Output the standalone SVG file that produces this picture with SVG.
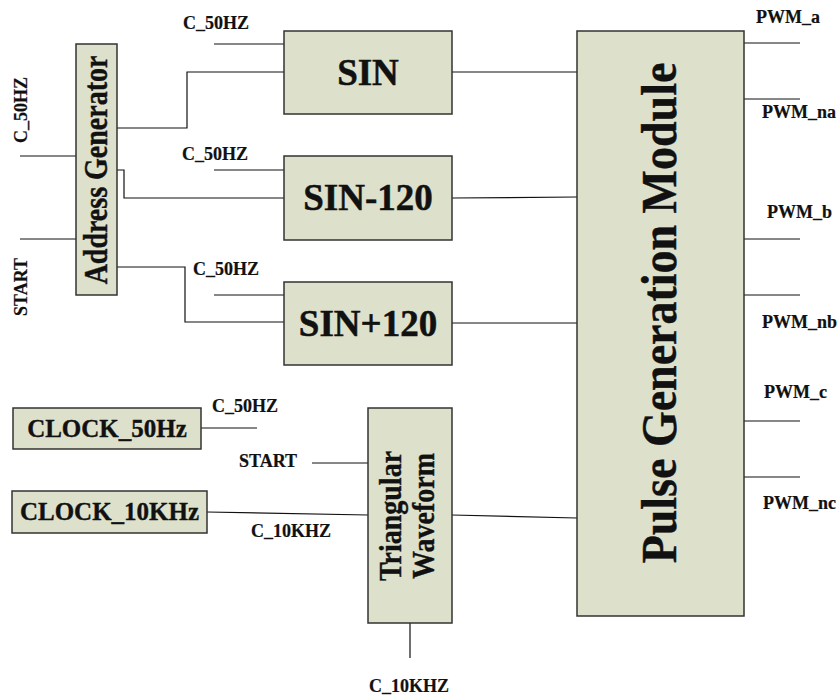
<svg xmlns="http://www.w3.org/2000/svg" width="840" height="695" viewBox="0 0 840 695">
<style>
.box{fill:#dde0cb;stroke:#333;stroke-width:1.5}
.ln{fill:none;stroke:#111;stroke-width:1.2}
text{font-family:"Liberation Serif","Times New Roman",serif;font-weight:bold;fill:#111;stroke:#111;stroke-width:0.35}
.lb{font-size:18px;stroke-width:0.2}
.big{font-size:37px;stroke-width:0.5}
.mid{font-size:25px}
</style>
<rect width="840" height="695" fill="#fff"/>
<g id="connectors">
<path class="ln" d="M20 156H76M20 239H76"/>
<path class="ln" d="M117 128H187V72H284"/>
<path class="ln" d="M117 170H124V198H284"/>
<path class="ln" d="M117 267H185V322H284"/>
<path class="ln" d="M214 44H284M214 170H284M214 295H284"/>
<path class="ln" d="M452 72H577M452 198L577 197M452 323H577"/>
<path class="ln" d="M744 43H800M744 99H800M744 239H800M744 295H800M744 421H800M744 477H800"/>
<path class="ln" d="M201 428H257M312 463H368"/>
<path class="ln" d="M207 512L368 515M452 515L577 518M410 623V658"/>
</g>
<g id="address-generator">
<rect class="box" x="76" y="44" width="41" height="251"/>
<text transform="translate(107,170) rotate(-90) scale(1,1.2)" text-anchor="middle" font-size="28" stroke-width="0.5">Address Generator</text>
</g>
<g id="sin">
<rect class="box" x="284" y="31" width="168" height="83"/>
<text class="big" x="368" y="85" text-anchor="middle">SIN</text>
</g>
<g id="sin-120">
<rect class="box" x="284" y="156" width="168" height="84"/>
<text class="big" x="368" y="210" text-anchor="middle">SIN-120</text>
</g>
<g id="sin+120">
<rect class="box" x="284" y="282" width="168" height="83"/>
<text class="big" x="368" y="336" text-anchor="middle">SIN+120</text>
</g>
<g id="pulse-generation-module">
<rect class="box" x="577" y="31" width="167" height="585"/>
<text transform="translate(676,313) rotate(-90) scale(1,1.08)" text-anchor="middle" font-size="46" stroke-width="0.6">Pulse Generation Module</text>
</g>
<g id="clock-50hz">
<rect class="box" x="13" y="408" width="188" height="41"/>
<text class="mid" x="107" y="437" text-anchor="middle">CLOCK_50Hz</text>
</g>
<g id="clock-10khz">
<rect class="box" x="12" y="491" width="195" height="42"/>
<text class="mid" x="109.500" y="520" text-anchor="middle">CLOCK_10KHz</text>
</g>
<g id="triangular-waveform">
<rect class="box" x="368" y="408" width="84" height="215"/>
<text transform="translate(401,516) rotate(-90) scale(1,1.1)" text-anchor="middle" font-size="28">Triangular</text>
<text transform="translate(434,516) rotate(-90) scale(1,1.1)" text-anchor="middle" font-size="28">Waveform</text>
</g>
<g id="labels">
<text class="lb" transform="translate(27,110) rotate(-90)" text-anchor="middle">C_50HZ</text>
<text class="lb" transform="translate(27,287) rotate(-90)" text-anchor="middle">START</text>
<text class="lb" x="183" y="29">C_50HZ</text>
<text class="lb" x="182" y="160">C_50HZ</text>
<text class="lb" x="193" y="275">C_50HZ</text>
<text class="lb" x="756" y="23">PWM_a</text>
<text class="lb" x="762" y="118">PWM_na</text>
<text class="lb" x="767" y="218">PWM_b</text>
<text class="lb" x="762" y="328">PWM_nb</text>
<text class="lb" x="764" y="398">PWM_c</text>
<text class="lb" x="763" y="509">PWM_nc</text>
<text class="lb" x="212" y="412">C_50HZ</text>
<text class="lb" x="239" y="467">START</text>
<text class="lb" x="251" y="537">C_10KHZ</text>
<text class="lb" x="369" y="692">C_10KHZ</text>
</g>
</svg>
